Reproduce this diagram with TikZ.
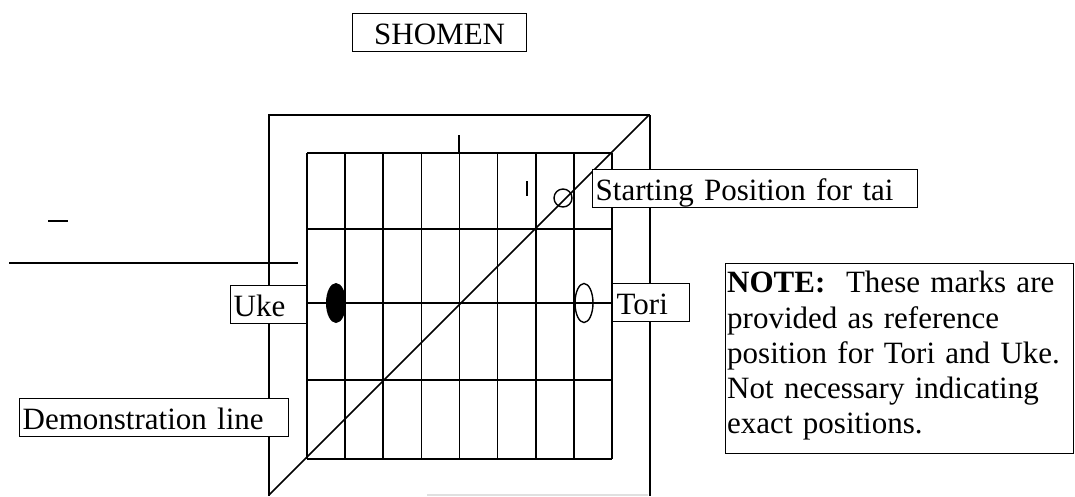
\documentclass[tikz,border=0pt]{standalone}
\usepackage{fontspec}
\setmainfont{Liberation Serif}
\begin{document}
\begin{tikzpicture}[x=1pt,y=-1pt,
  ln/.style={line width=1.6pt},
  thickln/.style={line width=2.6pt},
  lbl/.style={draw, fill=white, line width=1.3pt, font=\fontsize{31}{37}\selectfont,
    inner xsep=3pt, inner ysep=0pt, text height=30.5pt, text depth=7.5pt,
    anchor=north west, align=left},
  notetxt/.style={font=\fontsize{31}{35.3}\selectfont, text width=344pt, align=left,
    inner sep=0pt, anchor=north west},
  notebox/.style={draw, line width=1.3pt, minimum width=348pt, minimum height=190pt,
    anchor=north west, inner sep=0pt, fill=white},
  posmark/.style={line width=1.4pt}
]
\useasboundingbox (0,0) rectangle (1075,496);

% coordinates of the mat
\coordinate (otl) at (269,115);
\coordinate (otr) at (650,115);
\coordinate (obl) at (269,496);
\coordinate (obr) at (650,496);
\coordinate (dstart) at (269,495);
\coordinate (dend) at (649,115);

% faint bottom trace
\draw[black!12, line width=1.2pt] (427,495) -- (648,495);

% outer square
\draw[ln] (obl) -- (otl) -- (otr);
\draw[thickln] (otr) -- (obr);

% left lines
\draw[ln] (9,263) -- (298,263);
\draw[ln] (48,221) -- (68,221);

% grid
\foreach \i in {0,...,8} \draw[ln] ({307+38.125*\i},153) -- ({307+38.125*\i},459);
\foreach \yy in {153,229,303,380,459} \draw[ln] (307,\yy) -- (612,\yy);
\draw[ln] (459,135) -- (459,153);

% diagonal demonstration line
\draw[ln] (dstart) -- (dend);

% small marks
\draw[posmark] (527,181) -- (527,196);
\draw[posmark] (563,198) circle[radius=9];
\fill (336,303) ellipse[x radius=10, y radius=20];
\draw[posmark] (584,303) ellipse[x radius=9, y radius=19.5];

% labels
\node[lbl, text width=168pt, align=center] (shomen) at (352,13) {SHOMEN};
\node[lbl, text width=319pt] (start) at (592,169) {Starting Position for tai};
\node[lbl, text width=70pt] (uke) at (230,285) {Uke};
\node[lbl, text width=69pt, inner xsep=4pt] (tori) at (612,283) {Tori};
\node[lbl, text width=263pt] (demo) at (19,398) {Demonstration line};

% note
\node[notebox] (nbox) at (725,263) {};
\node[notetxt] (note) at (727,271) {\textbf{NOTE:}\ \ These marks are\\
provided as reference\\
position for Tori and Uke.\\
Not necessary indicating\\
exact positions.};
\end{tikzpicture}
\end{document}
